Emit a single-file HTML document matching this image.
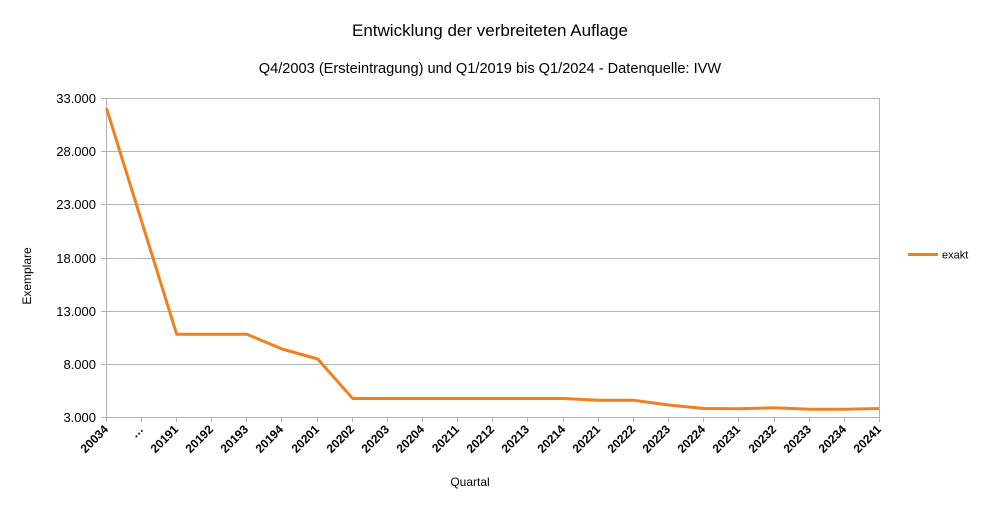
<!DOCTYPE html>
<html><head><meta charset="utf-8"><style>
html,body{margin:0;padding:0;background:#fff;}
svg{display:block;font-family:"Liberation Sans",sans-serif;}
</style></head><body>
<svg width="981" height="509" viewBox="0 0 981 509" xmlns="http://www.w3.org/2000/svg">
<rect width="981" height="509" fill="#fff"/>
<text x="490" y="36" font-size="17" text-anchor="middle" fill="#000">Entwicklung der verbreiteten Auflage</text>
<text x="490" y="73" font-size="14.6" text-anchor="middle" fill="#000">Q4/2003 (Ersteintragung) und Q1/2019 bis Q1/2024 - Datenquelle: IVW</text>
<g stroke="#b3b3b3" stroke-width="1" fill="none">
<path d="M101 98.5H879.5M101 151.5H879.5M101 204.5H879.5M101 258.5H879.5M101 311.5H879.5M101 364.5H879.5M101 417.5H879.5"/>
<path d="M106.5 98V417M879.5 98V422"/>
</g>
<g stroke="#b3b3b3" stroke-width="1">
<line x1="106.5" y1="417" x2="106.5" y2="422"/>
<line x1="141.5" y1="417" x2="141.5" y2="422"/>
<line x1="176.5" y1="417" x2="176.5" y2="422"/>
<line x1="211.5" y1="417" x2="211.5" y2="422"/>
<line x1="246.5" y1="417" x2="246.5" y2="422"/>
<line x1="281.5" y1="417" x2="281.5" y2="422"/>
<line x1="317.5" y1="417" x2="317.5" y2="422"/>
<line x1="352.5" y1="417" x2="352.5" y2="422"/>
<line x1="387.5" y1="417" x2="387.5" y2="422"/>
<line x1="422.5" y1="417" x2="422.5" y2="422"/>
<line x1="457.5" y1="417" x2="457.5" y2="422"/>
<line x1="492.5" y1="417" x2="492.5" y2="422"/>
<line x1="527.5" y1="417" x2="527.5" y2="422"/>
<line x1="563.5" y1="417" x2="563.5" y2="422"/>
<line x1="598.5" y1="417" x2="598.5" y2="422"/>
<line x1="633.5" y1="417" x2="633.5" y2="422"/>
<line x1="668.5" y1="417" x2="668.5" y2="422"/>
<line x1="703.5" y1="417" x2="703.5" y2="422"/>
<line x1="738.5" y1="417" x2="738.5" y2="422"/>
<line x1="774.5" y1="417" x2="774.5" y2="422"/>
<line x1="809.5" y1="417" x2="809.5" y2="422"/>
<line x1="844.5" y1="417" x2="844.5" y2="422"/>
</g>
<g font-size="13" text-anchor="end" fill="#000">
<text x="96" y="103">33.000</text>
<text x="96" y="156">28.000</text>
<text x="96" y="209">23.000</text>
<text x="96" y="263">18.000</text>
<text x="96" y="316">13.000</text>
<text x="96" y="369">8.000</text>
<text x="96" y="422">3.000</text>
</g>
<g font-size="12" font-weight="bold" text-anchor="end" fill="#000">
<text transform="translate(109,430) rotate(-45)">20034</text>
<text transform="translate(144,430) rotate(-45)">…</text>
<text transform="translate(179,430) rotate(-45)">20191</text>
<text transform="translate(214,430) rotate(-45)">20192</text>
<text transform="translate(249,430) rotate(-45)">20193</text>
<text transform="translate(284,430) rotate(-45)">20194</text>
<text transform="translate(320,430) rotate(-45)">20201</text>
<text transform="translate(355,430) rotate(-45)">20202</text>
<text transform="translate(390,430) rotate(-45)">20203</text>
<text transform="translate(425,430) rotate(-45)">20204</text>
<text transform="translate(460,430) rotate(-45)">20211</text>
<text transform="translate(495,430) rotate(-45)">20212</text>
<text transform="translate(530,430) rotate(-45)">20213</text>
<text transform="translate(566,430) rotate(-45)">20214</text>
<text transform="translate(601,430) rotate(-45)">20221</text>
<text transform="translate(636,430) rotate(-45)">20222</text>
<text transform="translate(671,430) rotate(-45)">20223</text>
<text transform="translate(706,430) rotate(-45)">20224</text>
<text transform="translate(741,430) rotate(-45)">20231</text>
<text transform="translate(777,430) rotate(-45)">20232</text>
<text transform="translate(812,430) rotate(-45)">20233</text>
<text transform="translate(847,430) rotate(-45)">20234</text>
<text transform="translate(882,430) rotate(-45)">20241</text>
</g>
<polyline fill="none" stroke="#f07f1d" stroke-width="3" stroke-linejoin="round"
points="106.5,108.3 176.7,334.3 211.8,334.3 247,334.3 282,349 317.7,359 352.7,398.5 387.9,398.5 423,398.5 458.1,398.5 493.3,398.5 528.4,398.5 563.5,398.5 598.7,400.3 633.8,400.3 668.9,405 704,408.5 739.2,408.7 774.3,407.8 809.4,409.2 844.6,409.2 879,408.5"/>
<text transform="translate(31,276) rotate(-90)" font-size="12" text-anchor="middle" fill="#000">Exemplare</text>
<text x="470" y="486" font-size="12" text-anchor="middle" fill="#000">Quartal</text>
<line x1="908" y1="254.5" x2="938" y2="254.5" stroke="#f07f1d" stroke-width="3"/>
<text x="942" y="258.5" font-size="11" fill="#000">exakt</text>
</svg>
</body></html>
